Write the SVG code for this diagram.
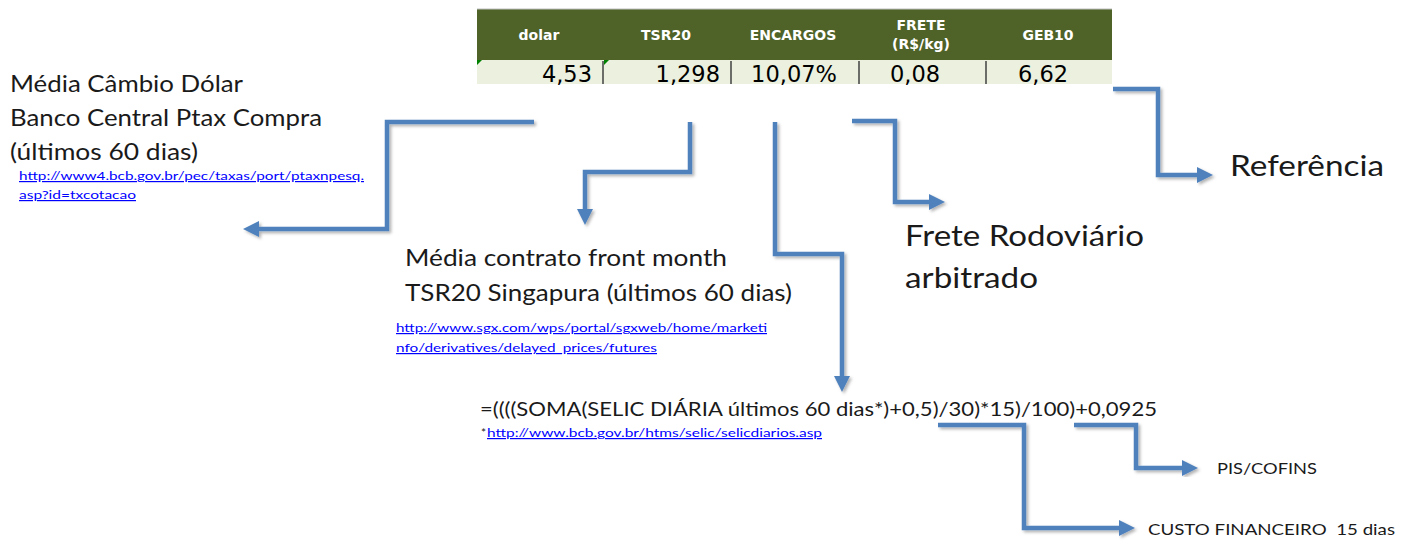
<svg xmlns="http://www.w3.org/2000/svg" width="1414" height="541" viewBox="0 0 1414 541">
<style>
.hdr{font-family:"DejaVu Sans",Verdana,sans-serif;font-weight:bold;font-size:14px;fill:#ffffff;text-anchor:middle}
.val{font-family:"DejaVu Sans",Verdana,sans-serif;font-size:22.5px;fill:#000000}
.big{font-family:Lato,"Liberation Sans",sans-serif;fill:#1a1a1a}
.url{font-family:Lato,"Liberation Sans",sans-serif;font-size:12px;fill:#0000ff;text-decoration:underline}
.conn{fill:none;stroke:#4F81BD;stroke-width:4.5;stroke-linejoin:miter;filter:url(#sh)}
</style>
<defs>
<marker id="ah" markerUnits="userSpaceOnUse" viewBox="0 0 16 16" markerWidth="16" markerHeight="16" refX="6" refY="8" orient="auto">
<path d="M0,0 L16,8 L0,16 z" fill="#4F81BD"/>
</marker>
<filter id="sh" x="-20%" y="-20%" width="140%" height="140%">
<feDropShadow dx="2" dy="2" stdDeviation="1.5" flood-color="#000" flood-opacity="0.3"/>
</filter>
</defs>
<rect width="1414" height="541" fill="#ffffff"/>

<g id="table">
<rect x="477" y="9" width="635" height="51" fill="#4F6228"/>
<line x1="477" y1="9" x2="1112" y2="9" stroke="#bfbfbf" stroke-width="1"/>
<rect x="477" y="60" width="635" height="24" fill="#EBF1DE"/>
<text class="hdr" x="539" y="40">dolar</text>
<text class="hdr" x="666" y="40">TSR20</text>
<text class="hdr" x="793" y="40">ENCARGOS</text>
<text class="hdr" x="921" y="30">FRETE</text>
<text class="hdr" x="921" y="49">(R$/kg)</text>
<text class="hdr" x="1048" y="40">GEB10</text>
<g stroke="#404040" stroke-width="1.5">
<line x1="603" y1="61" x2="603" y2="84"/>
<line x1="731" y1="61" x2="731" y2="84"/>
<line x1="859" y1="61" x2="859" y2="84"/>
<line x1="986" y1="61" x2="986" y2="84"/>
</g>
<path d="M477,60 L482,60 L477,65 z" fill="#008000"/>
<path d="M604,60 L609,60 L604,65 z" fill="#008000"/>
<text class="val" x="592" y="82" text-anchor="end">4,53</text>
<text class="val" x="720" y="82" text-anchor="end">1,298</text>
<text class="val" x="794" y="82" text-anchor="middle">10,07%</text>
<text class="val" x="915" y="82" text-anchor="middle">0,08</text>
<text class="val" x="1043" y="82" text-anchor="middle">6,62</text>
</g>

<g id="node-dolar">
<text class="big" font-size="24" x="10" y="92" textLength="233" lengthAdjust="spacingAndGlyphs">Média Câmbio Dólar</text>
<text class="big" font-size="24" x="10" y="126" textLength="312" lengthAdjust="spacingAndGlyphs">Banco Central Ptax Compra</text>
<text class="big" font-size="24" x="10" y="160" textLength="188" lengthAdjust="spacingAndGlyphs">(últimos 60 dias)</text>
<text class="url" x="19" y="180" textLength="345" lengthAdjust="spacingAndGlyphs">http://www4.bcb.gov.br/pec/taxas/port/ptaxnpesq.</text>
<text class="url" x="19" y="199" textLength="117" lengthAdjust="spacingAndGlyphs">asp?id=txcotacao</text>
</g>

<g id="node-tsr20">
<text class="big" font-size="24" x="405" y="266" textLength="322" lengthAdjust="spacingAndGlyphs">Média contrato front month</text>
<text class="big" font-size="24" x="405" y="301" textLength="387" lengthAdjust="spacingAndGlyphs">TSR20 Singapura (últimos 60 dias)</text>
<text class="url" x="396" y="332" textLength="371" lengthAdjust="spacingAndGlyphs">http://www.sgx.com/wps/portal/sgxweb/home/marketi</text>
<text class="url" x="396" y="352" textLength="261" lengthAdjust="spacingAndGlyphs">nfo/derivatives/delayed_prices/futures</text>
</g>

<g id="node-frete">
<text class="big" font-size="28" x="905" y="246" textLength="239" lengthAdjust="spacingAndGlyphs">Frete Rodoviário</text>
<text class="big" font-size="28" x="905" y="288" textLength="133" lengthAdjust="spacingAndGlyphs">arbitrado</text>
</g>

<g id="node-referencia">
<text class="big" font-size="28" x="1230" y="176" textLength="154" lengthAdjust="spacingAndGlyphs">Referência</text>
</g>

<g id="node-encargos">
<text class="big" font-size="20" x="480" y="416" textLength="677" lengthAdjust="spacingAndGlyphs">=((((SOMA(SELIC DIÁRIA últimos 60 dias*)+0,5)/30)*15)/100)+0,0925</text>
<text x="481" y="437" font-family="Lato,'Liberation Sans',sans-serif" font-size="12" fill="#1a1a1a">*</text>
<text class="url" x="487" y="437" textLength="335" lengthAdjust="spacingAndGlyphs">http://www.bcb.gov.br/htms/selic/selicdiarios.asp</text>
</g>

<g id="node-pis">
<text class="big" font-size="15" x="1217" y="474" textLength="100" lengthAdjust="spacingAndGlyphs">PIS/COFINS</text>
</g>

<g id="node-custo">
<text class="big" font-size="15" x="1148" y="535" textLength="247" lengthAdjust="spacingAndGlyphs" xml:space="preserve">CUSTO FINANCEIRO  15 dias</text>
</g>

<g id="connectors">
<path class="conn" marker-end="url(#ah)" d="M534,122 H387 V229 H253"/>
<path class="conn" marker-end="url(#ah)" d="M690,122 V172 H585 V215"/>
<path class="conn" marker-end="url(#ah)" d="M775,122 V254 H842 V382"/>
<path class="conn" marker-end="url(#ah)" d="M852,121 H895 V202 H935"/>
<path class="conn" marker-end="url(#ah)" d="M1113,89 H1158 V175 H1203"/>
<path class="conn" marker-end="url(#ah)" d="M938,425 H1024 V528 H1125"/>
<path class="conn" marker-end="url(#ah)" d="M1074,425 H1136 V468 H1188"/>
</g>
</svg>
